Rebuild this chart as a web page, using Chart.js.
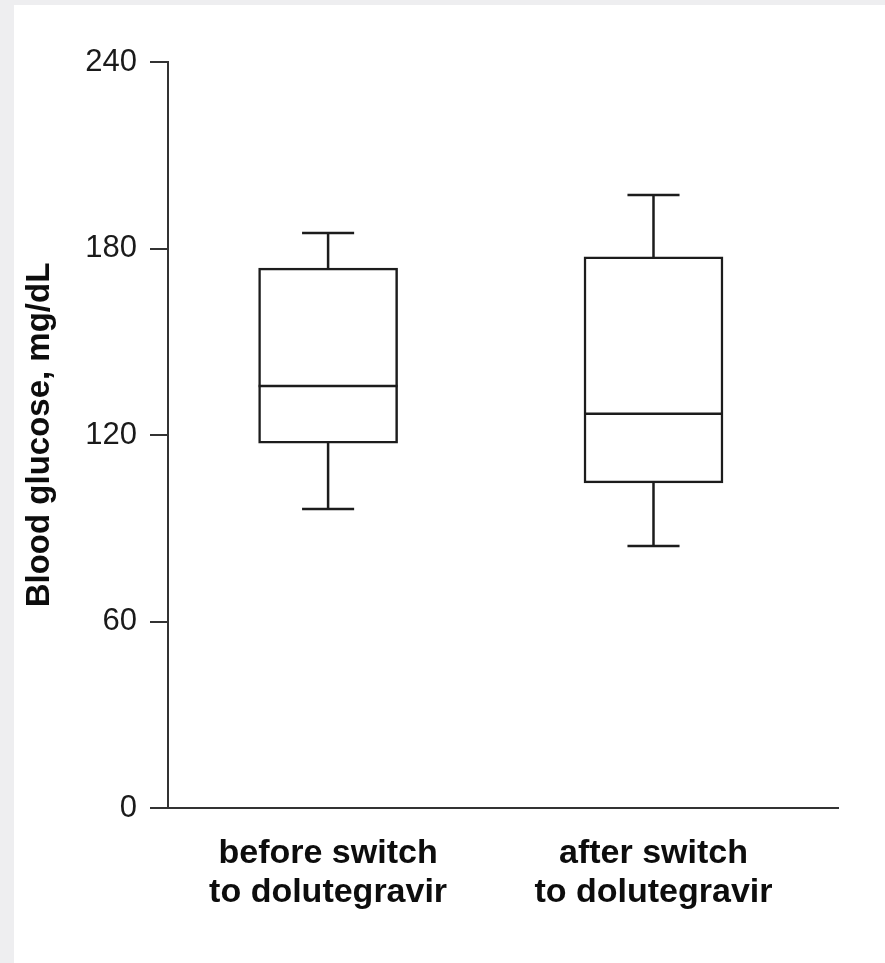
<!DOCTYPE html>
<html>
<head>
<meta charset="utf-8">
<script src="https://cdn.jsdelivr.net/npm/chart.js@4.4.0/dist/chart.umd.min.js"></script>
<style>
  body { margin: 0; background: #eeeef0; }
  #panel { position: absolute; left: 14px; top: 5px; width: 871px; height: 958px; background: #ffffff; }
</style>
</head>
<body>
<div id="panel"><canvas id="glucose" width="871" height="958"></canvas></div>
<script>
// group labels (two lines each)
var categories = [
  ["before switch", "to dolutegravir"],
  ["after switch", "to dolutegravir"]
];
// box plot statistics, mg/dL
var whiskerLow = [96.2, 84.3];
var q1 = [117.4, 104.6];
var median = [135.8, 126.8];
var q3 = [173.7, 177.3];
var whiskerHigh = [185.0, 197.2];
var yTicks = [0, 60, 120, 180, 240];

var ink = "#1c1c1c";
var axisInk = "#333333";
var fontFamily = "'Liberation Sans', Arial, sans-serif";

var boxes = categories.map(function(c, i) {
  return { x: i + 1, y: [q1[i], q3[i]] };
});

// whiskers, caps and median lines on top of the bars
var whiskerPlugin = {
  id: "whiskers",
  afterDatasetsDraw: function(chart) {
    var ctx = chart.ctx;
    var xs = chart.scales.x;
    var ys = chart.scales.y;
    var meta = chart.getDatasetMeta(0);
    ctx.save();
    ctx.strokeStyle = ink;
    ctx.lineWidth = 2.5;
    ctx.lineCap = "butt";
    categories.forEach(function(c, i) {
      var bar = meta.data[i].getProps(["x", "width"], true);
      var cx = xs.getPixelForValue(i + 1);
      var capL = xs.getPixelForValue(i + 1 - 0.08);
      var capR = xs.getPixelForValue(i + 1 + 0.08);
      ctx.beginPath();
      // median
      ctx.moveTo(bar.x - bar.width / 2, ys.getPixelForValue(median[i]));
      ctx.lineTo(bar.x + bar.width / 2, ys.getPixelForValue(median[i]));
      // upper whisker + cap
      ctx.moveTo(cx, ys.getPixelForValue(q3[i]));
      ctx.lineTo(cx, ys.getPixelForValue(whiskerHigh[i]));
      ctx.moveTo(capL, ys.getPixelForValue(whiskerHigh[i]));
      ctx.lineTo(capR, ys.getPixelForValue(whiskerHigh[i]));
      // lower whisker + cap
      ctx.moveTo(cx, ys.getPixelForValue(q1[i]));
      ctx.lineTo(cx, ys.getPixelForValue(whiskerLow[i]));
      ctx.moveTo(capL, ys.getPixelForValue(whiskerLow[i]));
      ctx.lineTo(capR, ys.getPixelForValue(whiskerLow[i]));
      ctx.stroke();
    });
    ctx.restore();
  }
};

var chart = new Chart(document.getElementById("glucose").getContext("2d"), {
  type: "bar",
  data: {
    datasets: [
      {
        data: boxes,
        backgroundColor: "#ffffff",
        borderColor: ink,
        borderWidth: 2.5,
        borderSkipped: false,
        barThickness: 139
      }
    ]
  },
  options: {
    responsive: false,
    animation: false,
    layout: { padding: { top: 57, right: 47, left: 0, bottom: 0 } },
    plugins: {
      legend: { display: false },
      tooltip: { enabled: false }
    },
    scales: {
      x: {
        type: "linear",
        offset: false,
        min: 0.508,
        max: 2.567,
        afterBuildTicks: function(scale) {
          scale.ticks = categories.map(function(c, i) {
            return { value: i + 1 };
          });
        },
        afterFit: function(scale) {
          scale.height = 155;
        },
        grid: { display: false, offset: false },
        border: { display: true, color: axisInk, width: 2 },
        ticks: {
          autoSkip: false,
          maxRotation: 0,
          padding: 18,
          color: "#0d0d0d",
          font: { family: fontFamily, size: 34, weight: "bold", lineHeight: 1.14 },
          callback: function(value) {
            return categories[value - 1];
          }
        }
      },
      y: {
        min: 0,
        max: 240,
        afterBuildTicks: function(scale) {
          scale.ticks = yTicks.map(function(v) {
            return { value: v };
          });
        },
        afterFit: function(scale) {
          scale.width = 154;
        },
        grid: {
          display: true,
          drawOnChartArea: false,
          drawTicks: true,
          tickLength: 18,
          color: axisInk,
          lineWidth: 2
        },
        border: { display: true, color: axisInk, width: 2 },
        ticks: {
          padding: 13,
          color: "#1a1a1a",
          font: { family: fontFamily, size: 31 }
        },
        title: {
          display: true,
          text: "Blood glucose, mg/dL",
          color: "#0d0d0d",
          padding: { top: 6, bottom: 0 },
          font: { family: fontFamily, size: 33, weight: "bold", lineHeight: 1.2 }
        }
      }
    }
  },
  plugins: [whiskerPlugin]
});
</script>
</body>
</html>
